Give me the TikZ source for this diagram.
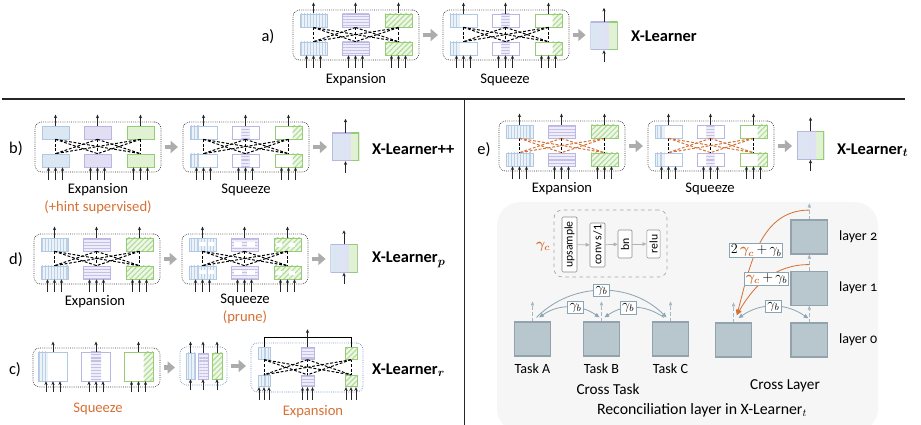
\documentclass[tikz,border=0pt]{standalone}
\usepackage{amsmath}
\usepackage{bm}
\usepackage{fontspec}
\setmainfont{Carlito}
\usetikzlibrary{arrows.meta,patterns.meta,positioning}

\definecolor{bluF}{RGB}{219,231,243}
\definecolor{bluD}{RGB}{176,200,228}
\definecolor{purF}{RGB}{226,223,245}
\definecolor{purD}{RGB}{186,182,226}
\definecolor{grnF}{RGB}{225,242,212}
\definecolor{grnD}{RGB}{150,204,116}
\definecolor{xorange}{RGB}{214,112,52}
\definecolor{taskF}{RGB}{184,198,205}
\definecolor{taskD}{RGB}{146,163,172}
\definecolor{linkC}{RGB}{140,165,180}
\definecolor{fatC}{RGB}{172,172,172}
\definecolor{bgC}{RGB}{246,246,246}
\definecolor{cframe}{RGB}{110,140,195}

\tikzset{
  sarr/.style={-{Stealth[length=1.1mm,width=1mm]}, line width=0.6pt, draw=black!85},
  xdash/.style={line width=0.85pt, dash pattern=on 2.4pt off 1.5pt},
  fatarr/.style={-{Triangle[length=2.2mm,width=3.6mm]}, line width=1.4mm, draw=fatC,
                 shorten <=1mm, shorten >=1.4mm},
  modframe/.style={draw=black!80, densely dotted, line width=0.6pt, rounded corners=2mm,
                   minimum width=37.8mm, minimum height=15mm, inner sep=0pt},
  blk/.style={draw=#1, line width=0.6pt, inner sep=0pt, minimum width=8.1mm, minimum height=3.9mm},
  vlin/.style={pattern={Lines[angle=90,distance=2.6pt,line width=0.9pt]}, pattern color=bluD!85},
  hlin/.style={pattern={Lines[angle=0,distance=2.6pt,line width=0.9pt]}, pattern color=purD!85},
  dlin/.style={pattern={Lines[angle=45,distance=3.2pt,line width=1pt]}, pattern color=grnD!70},
  % expansion, striped
  Eb/.style={blk=bluD, preaction={fill=bluF!55}, vlin},
  Ep/.style={blk=purD, preaction={fill=purF!55}, hlin},
  Eg/.style={blk=grnD, preaction={fill=grnF!55}, dlin},
  % expansion, plain
  Sb/.style={blk=bluD, fill=bluF},
  Sp/.style={blk=purD, fill=purF},
  Sg/.style={blk=grnD, fill=grnF},
  % squeeze
  Qb/.style={blk=bluD, fill=white, path picture={\path[vlin, preaction={fill=bluF!55}]
     (path picture bounding box.north west) rectangle ([xshift=2.8mm]path picture bounding box.south west);}},
  Qp/.style={blk=purD, fill=white, path picture={\path[hlin, preaction={fill=purF!55}]
     ([xshift=2.8mm]path picture bounding box.north west) rectangle ([xshift=-2.8mm]path picture bounding box.south east);}},
  Qg/.style={blk=grnD, fill=white, path picture={\path[dlin, preaction={fill=grnF!55}]
     ([xshift=-2.8mm]path picture bounding box.north east) rectangle (path picture bounding box.south east);}},
  % pruned
  Pb/.style={Eb, path picture={
     \fill[white] ([shift={(2.9mm,-1.3mm)}]path picture bounding box.north west) rectangle ++(2.2mm,-1.2mm);
     \fill[white] ([shift={(5.6mm,-1.3mm)}]path picture bounding box.north west) rectangle ++(1.9mm,-1.2mm);}},
  Pp/.style={Ep, path picture={
     \fill[white] ([shift={(0.8mm,-1.2mm)}]path picture bounding box.north west) rectangle ++(2.4mm,-1.4mm);
     \fill[white] ([shift={(4.9mm,-1.2mm)}]path picture bounding box.north west) rectangle ++(2.4mm,-1.4mm);}},
  Pg/.style={Eg, path picture={
     \fill[white] ([shift={(0.5mm,-1.4mm)}]path picture bounding box.north west) rectangle ++(2mm,-1.3mm);
     \fill[white] ([shift={(4.4mm,-1.4mm)}]path picture bounding box.north west) rectangle ++(2mm,-1.3mm);}},
  resblk/.style={draw=none, minimum width=8.1mm, minimum height=8.4mm, inner sep=0pt,
     left color=bluF, right color=purF, path picture={
     \fill[grnF] ([xshift=-2.5mm]path picture bounding box.north east) rectangle (path picture bounding box.south east);
     \draw[purD, line width=1.2pt] (path picture bounding box.north west) rectangle (path picture bounding box.south east);
     \draw[grnD, line width=1.2pt] ([xshift=-2.5mm]path picture bounding box.north east) -- (path picture bounding box.north east)
        -- (path picture bounding box.south east) -- ([xshift=-2.5mm]path picture bounding box.south east);}},
  lab/.style={font=\fontsize{12.5}{14}\selectfont, inner sep=1pt},
  olab/.style={lab, text=xorange},
  xl/.style={font=\fontsize{14}{16}\selectfont\bfseries, anchor=west, inner sep=0pt},
  pl/.style={font=\fontsize{14}{16}\selectfont, inner sep=0pt},
  % reconciliation part
  bgbox/.style={fill=bgC, rounded corners=7mm},
  opsbox/.style={draw=black!35, dashed, rounded corners=2.5mm, line width=0.6pt},
  opnode/.style={draw=black!45, fill=white, rounded corners=1pt, rotate=90, inner sep=1pt,
                 font=\fontsize{10}{11}\selectfont, line width=0.5pt},
  oparr/.style={-{Triangle[length=1.2mm,width=1.1mm]}, draw=black!30, line width=0.6pt},
  task/.style={draw=taskD, fill=taskF, line width=1pt, minimum width=11mm, minimum height=10.2mm, inner sep=0pt},
  upd/.style={-{Triangle[length=1.2mm,width=1mm]}, draw=linkC!80, densely dashed, line width=0.5pt},
  lnk/.style={>={Triangle[length=1.4mm,width=1.2mm]}, draw=linkC, line width=0.7pt},
  okl/.style={-{Triangle[length=1.6mm,width=1.4mm]}, draw=xorange, line width=0.7pt},
  gbox/.style={draw=linkC, fill=white, inner sep=1.5pt, line width=0.6pt, font=\fontsize{11.5}{12}\selectfont},
  tl/.style={font=\fontsize{12}{13}\selectfont},
  onum/.style={font=\fontsize{12}{13}\selectfont\addfontfeatures{Numbers=OldStyle}}
}

\newcommand{\gcx}{{\color{xorange}\bm{\gamma_c}}}

% module: name, left x, top y, block kind, colour of crossing dashes
\newcommand{\xmod}[5]{%
  \node[modframe] (#1) at (#2+63,-#3-25) {};
  \foreach \cx/\cc [count=\i] in {20.5/b,62.5/p,105.5/g}{
    \node[#4\cc] (#1t\i) at (#2+\cx,-#3-10.5) {};
    \node[#4\cc] (#1b\i) at (#2+\cx,-#3-38.5) {};
    \draw[sarr] (#1t\i.north) -- ++(0,11);
    \foreach \d in {-7,0,7}
      \draw[sarr] ([xshift=\d*0.3mm,yshift=-3.9mm]#1b\i.south) -- ([xshift=\d*0.3mm]#1b\i.south);
  }
  \foreach \i in {1,2,3}{\foreach \j in {1,2,3}{%
    \ifnum\i=\j \draw[xdash] (#1t\i.south) -- (#1b\j.north);
    \else \draw[xdash,draw=#5] (#1t\i.south) -- (#1b\j.north); \fi}}
}

% merged block: name, centre x, centre y
\newcommand{\xres}[3]{%
  \node[resblk] (#1) at (#2,#3) {};
  \draw[sarr] (#1.north) -- ++(0,14);
  \draw[sarr] ([yshift=-3.4mm]#1.south) -- (#1.south);
}

\begin{document}
\begin{tikzpicture}[x=0.3mm,y=0.3mm]
\useasboundingbox (0,0) rectangle (921,-425);

% a)
\node[pl] (ta) at (268,-37) {a)};
\xmod{aE}{293}{10}{E}{black}
\xmod{aS}{443}{10}{Q}{black}
\xres{aR}{604}{-36}
\draw[fatarr] (aE) -- (aS);
\draw[fatarr] (aS.east) -- (aS.east -| aR.west);
\node[lab] (aEl) at (356,-80) {Expansion};
\node[lab] (aSl) at (505,-80) {Squeeze};
\node[xl] (aX) at (631,-36) {X-Learner};

\draw[line width=1.5pt, black!85] (2,-99) -- (905,-99);
\draw[line width=0.8pt, black!85] (464,-99) -- (464,-425);

% b)
\node[pl] (tb) at (16,-149) {b)};
\xmod{bE}{35}{122}{S}{black}
\xmod{bS}{183}{122}{Q}{black}
\xres{bR}{345.5}{-147}
\draw[fatarr] (bE) -- (bS);
\draw[fatarr] (bS.east) -- (bS.east -| bR.west);
\node[lab] (bEl) at (98,-190) {Expansion};
\node[olab] (bEh) at (98,-207) {(+hint supervised)};
\node[lab] (bSl) at (246,-190) {Squeeze};
\node[xl] (bX) at (372,-149) {X-Learner++};

% d)
\node[pl] (td) at (16,-260) {d)};
\xmod{dE}{34}{234}{E}{black}
\xmod{dS}{182}{234}{P}{black}
\xres{dR}{344}{-258.5}
\draw[fatarr] (dE) -- (dS);
\draw[fatarr] (dS.east) -- (dS.east -| dR.west);
\node[lab] (dEl) at (95,-302) {Expansion};
\node[lab] (dSl) at (245,-300) {Squeeze};
\node[olab] (dSp) at (245,-317) {(prune)};
\node[xl] (dX) at (372,-260) {X-Learner$_{\bm{p}}$};

% c)
\node[pl] (tc) at (15,-370) {c)};
\node[modframe, minimum width=38.1mm, minimum height=11.7mm] (cS) at (96.5,-367.5) {};
\foreach \cx/\cc [count=\i] in {53/Qb,96/Qp,138.5/Qg}{
  \node[\cc, minimum width=8.7mm, minimum height=8.7mm] (cS\i) at (\cx,-366.5) {};
  \draw[sarr] (cS\i.north) -- ++(0,10);
  \foreach \d in {-7,0,7}
    \draw[sarr] ([xshift=\d*0.3mm,yshift=-3.3mm]cS\i.south) -- ([xshift=\d*0.3mm]cS\i.south);
}
\node[modframe, draw=cframe, minimum width=14.1mm, minimum height=11.4mm] (cM) at (203.5,-366) {};
\foreach \cx/\cc/\w [count=\i] in {190.5/Eb/2.7mm,203/Ep/3mm,217/Eg/3mm}{
  \node[\cc, minimum width=\w, minimum height=7.8mm] (cM\i) at (\cx,-366) {};
  \draw[sarr] (cM\i.north) -- ++(0,11);
  \draw[sarr] ([yshift=-3.3mm]cM\i.south) -- (cM\i.south);
}
\node[modframe, draw=cframe, minimum width=33.6mm, minimum height=14.7mm] (cX) at (307,-367.5) {};
\foreach \cx/\cc/\w [count=\i] in {264/Eb/3.6mm,307.5/Ep/3.9mm,351/Eg/3.6mm}{
  \node[\cc, minimum width=\w, minimum height=3.5mm] (cXt\i) at (\cx,-353.5) {};
  \node[\cc, minimum width=\w, minimum height=3.5mm] (cXb\i) at (\cx,-381) {};
  \foreach \d in {-5,0,5}
    \draw[sarr] ([xshift=\d*0.3mm,yshift=-3.9mm]cXb\i.south) -- ([xshift=\d*0.3mm]cXb\i.south);
}
\foreach \i in {1,2,3}{\foreach \j in {1,2,3}{
  \draw[xdash] (cXt\i.south) -- (cXb\j.north);}}
\draw[line width=0.6pt] (cXt1.north) -- ([yshift=3mm]cXt1.north) -| (cXt3.north);
\draw[sarr] (cXt2.north) -- ([yshift=5.4mm]cXt2.north);
\draw[fatarr] (cS.east) -- (cS.east -| cM.west);
\draw[fatarr] (cM.east) -- (cM.east -| cX.west);
\node[olab] (cSl) at (98,-409) {Squeeze};
\node[olab] (cXl) at (313,-412) {Expansion};
\node[xl] (cXx) at (372,-370) {X-Learner$_{\bm{r}}$};

% e)
\node[pl] (te) at (484,-150) {e)};
\xmod{eE}{499}{121}{E}{xorange}
\xmod{eS}{648}{121}{Q}{xorange}
\xres{eR}{810.5}{-145.5}
\draw[fatarr] (eE) -- (eS);
\draw[fatarr] (eS.east) -- (eS.east -| eR.west);
\node[lab] (eEl) at (562,-189) {Expansion};
\node[lab] (eSl) at (710,-189) {Squeeze};
\node[xl] (eX) at (837,-150) {X-Learner$_{\bm{t}}$};

% reconciliation layer
\fill[bgbox] (497,-202) rectangle (878,-432);
\node[opsbox, minimum width=33.9mm, minimum height=20.1mm] (ops) at (610.5,-243.5) {};
\node[font=\fontsize{12}{13}\selectfont] (gc) at (543,-247) {$\gcx$};
\node[opnode, minimum width=16.5mm, minimum height=4.5mm] (ups) at (569.5,-244.5) {upsample};
\node[opnode, minimum width=13.2mm, minimum height=4.5mm] (conv) at (597.5,-245) {conv s/1};
\node[opnode, minimum width=8.4mm, minimum height=4.2mm] (bn) at (625,-244) {bn};
\node[opnode, minimum width=8.4mm, minimum height=4mm] (relu) at (653.5,-244) {relu};
\draw[oparr] (ups) -- (conv);
\draw[oparr] (conv) -- (bn);
\draw[oparr] (bn) -- (relu);

\node[task] (tA) at (532.5,-339) {};
\node[task] (tB) at (601.5,-339) {};
\node[task] (tC) at (670.5,-339) {};
\node[tl, below=1mm of tA] (lA) {Task A};
\node[tl, below=1mm of tB] (lB) {Task B};
\node[tl, below=1mm of tC] (lC) {Task C};
\node[font=\fontsize{13}{14}\selectfont] (ct) at (608,-389) {Cross Task};
\foreach \t in {tA,tB,tC}
  \draw[upd] (\t.north) -- ++(0,20);
\draw[lnk,->] ([shift={(1.2mm,1.2mm)}]tA.north) to[out=45,in=135]
  node[gbox] (gAC) {$\gamma_b$} ([shift={(-1.2mm,1.2mm)}]tC.north);
\draw[lnk,<->] ([shift={(2mm,1.2mm)}]tA.north) to[out=35,in=145]
  node[gbox, pos=0.6] (gAB) {$\gamma_b$} ([shift={(-0.6mm,1.2mm)}]tB.north);
\draw[lnk,->] ([shift={(-2mm,1.2mm)}]tC.north) to[out=145,in=35]
  node[gbox, pos=0.6] (gCB) {$\gamma_b$} ([shift={(0.9mm,1.2mm)}]tB.north);

\node[task] (l0) at (733.5,-340) {};
\node[task, right=11.4mm of l0] (r0) {};
\node[task, above=5mm of r0] (r1) {};
\node[task, above=4.8mm of r1] (r2) {};
\node[onum, right=2mm of r2] (n2) {layer 2};
\node[onum, right=2mm of r1] (n1) {layer 1};
\node[onum, right=2mm of r0] (n0) {layer 0};
\node[font=\fontsize{13}{14}\selectfont] (cl) at (785,-386) {Cross Layer};
\draw[upd] (r0) -- (r1);
\draw[upd] (r1) -- (r2);
\draw[upd] (r2.north) -- ++(0,16);
\draw[upd] (l0.north) -- ++(0,20);
\draw[lnk,<->] ([shift={(1.5mm,1.3mm)}]l0.north) to[out=35,in=145]
  node[gbox] (gL) {$\gamma_b$} ([shift={(-0.3mm,1.2mm)}]r0.north);
\draw[okl] ([yshift=2.8mm]r2.north) to[out=180,in=75]
  node[gbox, pos=0.55, inner sep=1pt] (g2) {$2\,\gcx\,{+}\,\gamma_b$} ([shift={(1mm,2.2mm)}]l0.north);
\draw[okl] ([yshift=1.8mm]r1.north) to[out=180,in=60]
  node[gbox, pos=0.5, inner sep=1pt] (g1) {$\gcx\,{+}\,\gamma_b$} ([shift={(1mm,2.2mm)}]l0.north);
\node[font=\fontsize{13.5}{15}\selectfont] (rec) at (702,-410) {Reconciliation layer in X-Learner$_t$};
\end{tikzpicture}
\end{document}
